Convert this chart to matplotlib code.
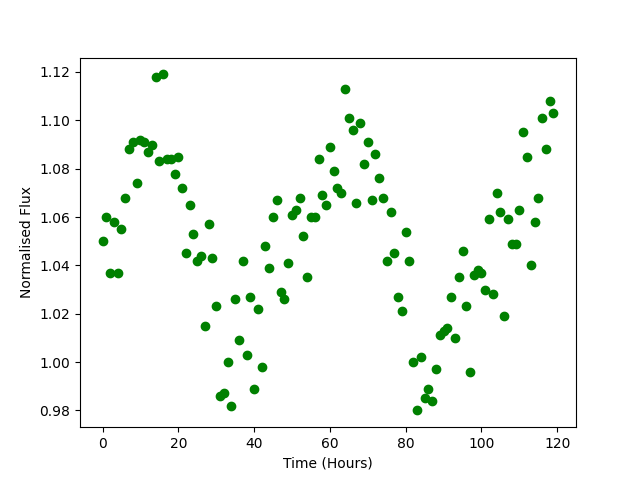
import matplotlib
matplotlib.use('Agg')
import matplotlib.pyplot as plt
import numpy as np

tiempo = np.arange(120)
flujo = [
    1.050, 1.060, 1.037, 1.058, 1.037, 1.055, 1.068, 1.088, 1.091, 1.074,
    1.092, 1.091, 1.087, 1.090, 1.118, 1.083, 1.119, 1.084, 1.084, 1.078,
    1.085, 1.072, 1.045, 1.065, 1.053, 1.042, 1.044, 1.015, 1.057, 1.043,
    1.023, 0.986, 0.987, 1.000, 0.982, 1.026, 1.009, 1.042, 1.003, 1.027,
    0.989, 1.022, 0.998, 1.048, 1.039, 1.060, 1.067, 1.029, 1.026, 1.041,
    1.061, 1.063, 1.068, 1.052, 1.035, 1.060, 1.060, 1.084, 1.069, 1.065,
    1.089, 1.079, 1.072, 1.070, 1.113, 1.101, 1.096, 1.066, 1.099, 1.082,
    1.091, 1.067, 1.086, 1.076, 1.068, 1.042, 1.062, 1.045, 1.027, 1.021,
    1.054, 1.042, 1.000, 0.980, 1.002, 0.985, 0.989, 0.984, 0.997, 1.011,
    1.013, 1.014, 1.027, 1.010, 1.035, 1.046, 1.023, 0.996, 1.036, 1.038,
    1.037, 1.030, 1.059, 1.028, 1.070, 1.062, 1.019, 1.059, 1.049, 1.049,
    1.063, 1.095, 1.085, 1.040, 1.058, 1.068, 1.101, 1.088, 1.108, 1.103,
]

fig, ax = plt.subplots(figsize=(6.4, 4.8), dpi=100)
ax.plot(tiempo, flujo, 'o', color='green')
ax.set_xlabel("Time (Hours)")
ax.set_ylabel("Normalised Flux")
fig.savefig('out.png')
